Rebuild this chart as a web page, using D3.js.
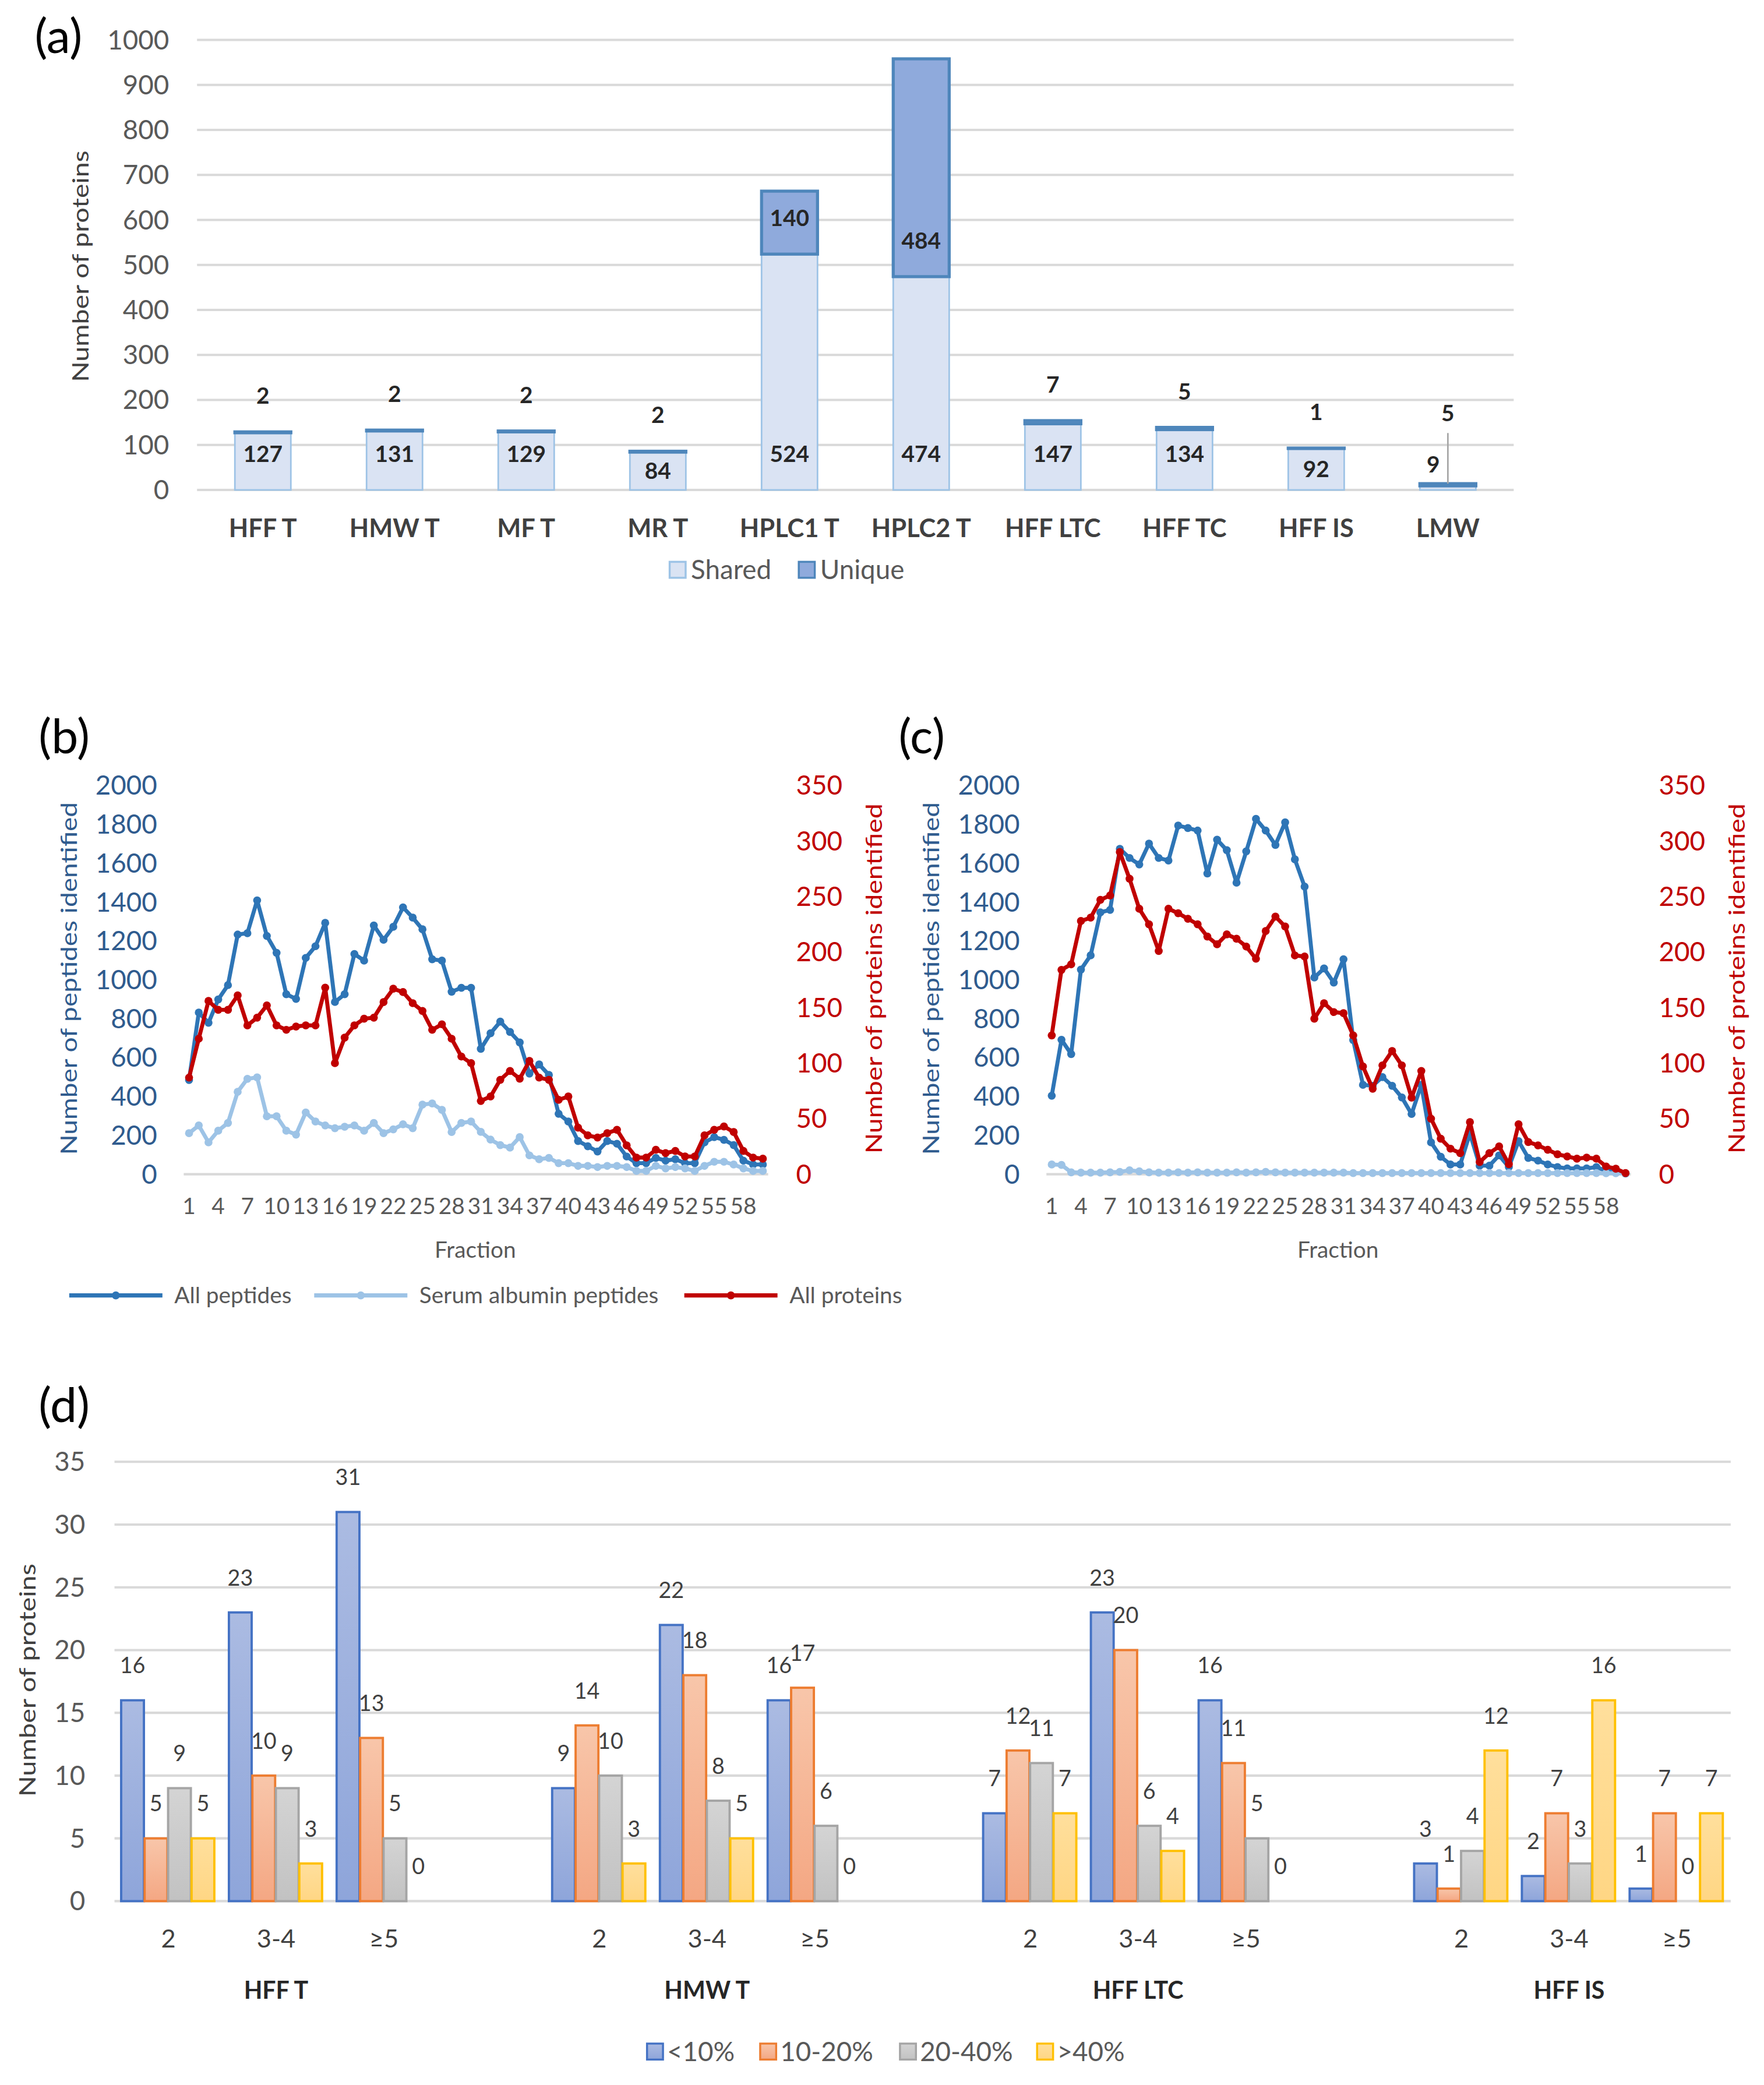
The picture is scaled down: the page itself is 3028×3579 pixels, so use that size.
<!DOCTYPE html>
<meta charset="utf-8">
<script src="https://d3js.org/d3.v7.min.js"></script>
<style>
  body { margin: 0; background: #fff; }
  text { font-family: Lato, "Liberation Sans", sans-serif; }
</style>
<div id="my_dataviz"></div>
<script>
// ---------- data: panel (a) ----------
var catsA = ["HFF T", "HMW T", "MF T", "MR T", "HPLC1 T", "HPLC2 T", "HFF LTC", "HFF TC", "HFF IS", "LMW"];
var sharedA = [127, 131, 129, 84, 524, 474, 147, 134, 92, 9];
var uniqueA = [2, 2, 2, 2, 140, 484, 7, 5, 1, 5];
var ticksA = [0, 100, 200, 300, 400, 500, 600, 700, 800, 900, 1000];

// ---------- data: panels (b) and (c) ----------
var fractions = d3.range(1, 61);
var fracTicks = [1, 4, 7, 10, 13, 16, 19, 22, 25, 28, 31, 34, 37, 40, 43, 46, 49, 52, 55, 58];
var ticksPep = [0, 200, 400, 600, 800, 1000, 1200, 1400, 1600, 1800, 2000];
var ticksProt = [0, 50, 100, 150, 200, 250, 300, 350];

var pepB = [485, 832, 779, 899, 973, 1233, 1240, 1409, 1226, 1139,
            926, 902, 1113, 1173, 1293, 886, 926, 1133, 1099, 1280,
            1206, 1273, 1373, 1320, 1260, 1106, 1099, 939, 959, 959,
            645, 725, 785, 732, 678, 518, 565, 511, 311, 271,
            171, 144, 117, 171, 157, 91, 57, 57, 84, 70,
            77, 57, 57, 164, 191, 177, 150, 70, 50, 50];
var albB = [211, 251, 164, 224, 264, 424, 491, 498, 298, 298,
            224, 204, 318, 271, 251, 237, 244, 251, 224, 264,
            211, 231, 257, 237, 358, 364, 331, 217, 264, 271,
            218, 178, 150, 137, 191, 97, 77, 84, 57, 57,
            43, 43, 37, 43, 43, 37, 17, 17, 43, 30,
            37, 30, 17, 43, 64, 64, 50, 30, 17, 17];
var protB = [87, 122, 156, 148, 148, 161, 134, 141, 152, 134,
             130, 133, 134, 134, 168, 100, 123, 134, 140, 141,
             155, 167, 164, 154, 147, 130, 135, 122, 106, 100,
             66, 70, 85, 93, 86, 102, 87, 85, 67, 70,
             42, 35, 33, 37, 40, 26, 15, 15, 22, 19,
             21, 16, 16, 35, 40, 43, 38, 21, 15, 14];

var pepC = [404, 692, 618, 1053, 1126, 1347, 1360, 1674, 1627, 1594,
            1701, 1627, 1614, 1794, 1781, 1768, 1547, 1721, 1667, 1500,
            1661, 1828, 1768, 1694, 1810, 1620, 1480, 1012, 1059, 986,
            1106, 690, 460, 455, 500, 455, 395, 310, 460, 164,
            90, 50, 50, 210, 44, 44, 97, 37, 170, 84,
            70, 50, 37, 30, 30, 30, 37, 17, 17, 4];
var albC = [50, 48, 10, 8, 8, 8, 10, 12, 20, 15,
            10, 8, 8, 10, 8, 10, 8, 8, 8, 10,
            8, 10, 12, 10, 8, 8, 8, 8, 8, 8,
            8, 6, 6, 6, 6, 6, 6, 6, 6, 6,
            6, 6, 6, 6, 6, 6, 6, 6, 6, 6,
            6, 6, 6, 6, 6, 6, 6, 5, 5, 5];
var protC = [125, 184, 189, 228, 231, 247, 251, 290, 266, 239,
             225, 201, 239, 235, 230, 225, 214, 207, 216, 212,
             205, 194, 219, 232, 223, 197, 196, 140, 154, 146,
             145, 125, 97, 77, 98, 111, 98, 69, 93, 50,
             32, 23, 19, 47, 11, 19, 25, 9, 45, 29,
             26, 22, 18, 16, 14, 15, 14, 7, 5, 1];

// ---------- data: panel (d) ----------
var groupsD = ["HFF T", "HMW T", "HFF LTC", "HFF IS"];
var subsD = ["2", "3-4", "\u22655"];
var seriesD = ["<10%", "10-20%", "20-40%", ">40%"];
var lt10 = [16, 23, 31, 9, 22, 16, 7, 23, 16, 3, 2, 1];
var p10to20 = [5, 10, 13, 14, 18, 17, 12, 20, 11, 1, 7, 7];
var p20to40 = [9, 9, 5, 10, 8, 6, 11, 6, 5, 4, 3, 0];
var gt40 = [5, 3, 0, 3, 5, 0, 7, 4, 0, 12, 16, 7];
var ticksD = [0, 5, 10, 15, 20, 25, 30, 35];

// ---------- page ----------
var K = 3028 / 1325;   // drawing is laid out in a 1325 wide frame, then scaled
var svg = d3.select("#my_dataviz")
    .append("svg")
    .attr("width", 3028)
    .attr("height", 3579);
var root = svg.append("g").attr("transform", "scale(" + K + ")");

var grid = "#d9d9d9", axisText = "#595959";

function panelLetter(txt, x, y) {
    root.append("text").attr("x", x).attr("y", y)
        .attr("font-size", 36).attr("fill", "#000").text(txt);
}

function rotTitle(txt, x, cy, len, color) {
    root.append("text")
        .attr("transform", "translate(" + x + "," + cy + ")rotate(-90)")
        .attr("text-anchor", "middle")
        .attr("dominant-baseline", "central")
        .attr("font-family", "DejaVu Sans")
        .attr("font-size", 17)
        .attr("textLength", len)
        .attr("lengthAdjust", "spacingAndGlyphs")
        .attr("fill", color)
        .text(txt);
}

// ================= (a) =================
panelLetter("(a)", 26, 40);

var xA = d3.scaleBand().domain(catsA).range([148, 1137]).paddingInner(0.575).paddingOuter(0.2875);
var yA = d3.scaleLinear().domain([0, 1000]).range([368, 30]);

var gA = root.append("g");
gA.selectAll("line.grid").data(ticksA).enter().append("line")
    .attr("x1", 148).attr("x2", 1137)
    .attr("y1", function(d) { return yA(d); }).attr("y2", function(d) { return yA(d); })
    .attr("stroke", grid).attr("stroke-width", 1.8);
gA.selectAll("text.tick").data(ticksA).enter().append("text")
    .attr("x", 127).attr("y", function(d) { return yA(d); }).attr("dy", "0.35em")
    .attr("text-anchor", "end").attr("font-size", 20).attr("fill", axisText)
    .text(function(d) { return d; });

var dataA = catsA.map(function(c, i) { return { cat: c, shared: sharedA[i], unique: uniqueA[i] }; });

gA.selectAll("rect.shared").data(dataA).enter().append("rect")
    .attr("x", function(d) { return xA(d.cat); })
    .attr("width", xA.bandwidth())
    .attr("y", function(d) { return yA(d.shared); })
    .attr("height", function(d) { return yA(0) - yA(d.shared); })
    .attr("fill", "#dae3f3").attr("stroke", "#9dc3e6").attr("stroke-width", 1.2);
gA.selectAll("rect.unique").data(dataA).enter().append("rect")
    .attr("x", function(d) { return xA(d.cat); })
    .attr("width", xA.bandwidth())
    .attr("y", function(d) { return yA(d.shared + d.unique); })
    .attr("height", function(d) { return yA(d.shared) - yA(d.shared + d.unique); })
    .attr("fill", "#8faadc").attr("stroke", "#4e86bb").attr("stroke-width", 2.3);

// shared labels: inside base, centred when the bar is short, pulled aside when tiny
gA.selectAll("text.sl").data(dataA).enter().append("text")
    .attr("x", function(d) { return xA(d.cat) + xA.bandwidth() / 2 + (d.shared < 20 ? -11 : 0); })
    .attr("y", function(d) {
        var h = yA(0) - yA(d.shared);
        if (d.shared < 20) return yA(0) - 19;
        return h > 40 ? yA(0) - 27 : yA(d.shared / 2);
    })
    .attr("dy", "0.35em").attr("text-anchor", "middle")
    .attr("font-size", 17).attr("font-weight", "bold").attr("fill", "#262626")
    .text(function(d) { return d.shared; });

// unique labels: inside base of the segment when tall, else above the bar
function uniqueLabelY(d) {
    var h = yA(d.shared) - yA(d.shared + d.unique);
    if (h > 40) return yA(d.shared) - 27;
    if (d.shared + d.unique < 20) return yA(d.shared + d.unique) - 53;
    return yA(d.shared + d.unique) - 27;
}
gA.selectAll("line.leader").data(dataA.filter(function(d) { return d.shared + d.unique < 20; }))
    .enter().append("line")
    .attr("x1", function(d) { return xA(d.cat) + xA.bandwidth() / 2; })
    .attr("x2", function(d) { return xA(d.cat) + xA.bandwidth() / 2; })
    .attr("y1", function(d) { return uniqueLabelY(d) + 15; })
    .attr("y2", function(d) { return yA(d.shared + d.unique); })
    .attr("stroke", "#a6a6a6").attr("stroke-width", 1.2);
gA.selectAll("text.ul").data(dataA).enter().append("text")
    .attr("x", function(d) { return xA(d.cat) + xA.bandwidth() / 2; })
    .attr("y", uniqueLabelY)
    .attr("dy", "0.35em").attr("text-anchor", "middle")
    .attr("font-size", 17).attr("font-weight", "bold").attr("fill", "#262626")
    .text(function(d) { return d.unique; });

gA.selectAll("text.xl").data(catsA).enter().append("text")
    .attr("x", function(d) { return xA(d) + xA.bandwidth() / 2; })
    .attr("y", 397).attr("dy", "0.35em").attr("text-anchor", "middle")
    .attr("font-size", 19).attr("font-weight", "bold").attr("fill", "#404040")
    .text(function(d) { return d; });

rotTitle("Number of proteins", 60, 200, 174, "#404040");

var legA = [{ t: "Shared", f: "#dae3f3", s: "#9dc3e6", x: 503 }, { t: "Unique", f: "#8faadc", s: "#4e86bb", x: 600 }];
legA.forEach(function(l) {
    gA.append("rect").attr("x", l.x).attr("y", 422).attr("width", 12).attr("height", 12)
        .attr("fill", l.f).attr("stroke", l.s).attr("stroke-width", 1.5);
    gA.append("text").attr("x", l.x + 16).attr("y", 428).attr("dy", "0.35em")
        .attr("font-size", 20).attr("fill", axisText).text(l.t);
});

// ================= (b) and (c) =================
var cPep = "#2e75b6", cAlb = "#9dc3e6", cProt = "#c00000", cLeft = "#2f5b8e";

function linePanel(dx, pep, alb, prot) {
    var g = root.append("g");
    var x = d3.scalePoint().domain(fractions).range([142 + dx, 573 + dx]);
    var yL = d3.scaleLinear().domain([0, 2000]).range([882, 590]);
    var yR = d3.scaleLinear().domain([0, 350]).range([882, 590]);

    g.append("line").attr("x1", 138 + dx).attr("x2", 577 + dx).attr("y1", yL(0)).attr("y2", yL(0))
        .attr("stroke", grid).attr("stroke-width", 1.8);

    g.selectAll("text.tl").data(ticksPep).enter().append("text")
        .attr("x", 118 + dx).attr("y", function(d) { return yL(d); }).attr("dy", "0.35em")
        .attr("text-anchor", "end").attr("font-size", 20).attr("fill", cLeft)
        .text(function(d) { return d; });
    g.selectAll("text.tr").data(ticksProt).enter().append("text")
        .attr("x", 598 + dx).attr("y", function(d) { return yR(d); }).attr("dy", "0.35em")
        .attr("text-anchor", "start").attr("font-size", 20).attr("fill", cProt)
        .text(function(d) { return d; });
    g.selectAll("text.tx").data(fracTicks).enter().append("text")
        .attr("x", function(d) { return x(d); }).attr("y", 906).attr("dy", "0.35em")
        .attr("text-anchor", "middle").attr("font-size", 17).attr("fill", axisText)
        .text(function(d) { return d; });
    g.append("text").attr("x", 357 + dx).attr("y", 939).attr("dy", "0.35em")
        .attr("text-anchor", "middle").attr("font-size", 17).attr("fill", axisText).text("Fraction");

    var series = [
        { v: pep, y: yL, c: cPep },
        { v: alb, y: yL, c: cAlb },
        { v: prot, y: yR, c: cProt }
    ];
    series.forEach(function(s) {
        var line = d3.line()
            .x(function(d, i) { return x(fractions[i]); })
            .y(function(d) { return s.y(d); });
        g.append("path").datum(s.v).attr("d", line)
            .attr("fill", "none").attr("stroke", s.c).attr("stroke-width", 3)
            .attr("stroke-linejoin", "round");
        g.selectAll(null).data(s.v).enter().append("circle")
            .attr("cx", function(d, i) { return x(fractions[i]); })
            .attr("cy", function(d) { return s.y(d); })
            .attr("r", 3).attr("fill", s.c);
    });

    rotTitle("Number of peptides identified", 51 + dx, 735, 265, cLeft);
    rotTitle("Number of proteins identified", 656 + dx, 735, 263, cProt);
}

panelLetter("(b)", 29, 566);
panelLetter("(c)", 675, 566);
linePanel(0, pepB, albB, protB);
linePanel(648, pepC, albC, protC);

var legB = [
    { t: "All peptides", c: cPep, x: 52 },
    { t: "Serum albumin peptides", c: cAlb, x: 236 },
    { t: "All proteins", c: cProt, x: 514 }
];
legB.forEach(function(l) {
    root.append("line").attr("x1", l.x).attr("x2", l.x + 70).attr("y1", 973).attr("y2", 973)
        .attr("stroke", l.c).attr("stroke-width", 3.2);
    root.append("circle").attr("cx", l.x + 35).attr("cy", 973).attr("r", 3).attr("fill", l.c);
    root.append("text").attr("x", l.x + 79).attr("y", 973).attr("dy", "0.35em")
        .attr("font-size", 17).attr("fill", axisText).text(l.t);
});

// ================= (d) =================
panelLetter("(d)", 29, 1068);

var slots = [];
groupsD.forEach(function(g, gi) {
    subsD.forEach(function(s) { slots.push(g + "|" + s); });
    if (gi < groupsD.length - 1) slots.push("gap" + gi);
});
var xD = d3.scaleBand().domain(slots).range([86, 1300]);
var xIn = d3.scaleBand().domain(seriesD).range([5, 75]).paddingInner(0.03);
var yD = d3.scaleLinear().domain([0, 35]).range([1428, 1098]);

var colD = {
    "<10%":   { top: "#abbbe2", bot: "#8ea5da", s: "#4472c4" },
    "10-20%": { top: "#f8c6aa", bot: "#f4a783", s: "#ed7d31" },
    "20-40%": { top: "#d4d4d4", bot: "#c2c2c2", s: "#a5a5a5" },
    ">40%":   { top: "#ffdf9c", bot: "#ffd684", s: "#ffc000" }
};
var defs = svg.append("defs");
seriesD.forEach(function(s, i) {
    var gr = defs.append("linearGradient").attr("id", "gd" + i)
        .attr("x1", 0).attr("y1", 0).attr("x2", 0).attr("y2", 1);
    gr.append("stop").attr("offset", "0%").attr("stop-color", colD[s].top);
    gr.append("stop").attr("offset", "100%").attr("stop-color", colD[s].bot);
});

var valuesD = [lt10, p10to20, p20to40, gt40];
var barsD = [];
groupsD.forEach(function(g, gi) {
    subsD.forEach(function(s, si) {
        seriesD.forEach(function(ser, k) {
            barsD.push({ slot: g + "|" + s, ser: ser, k: k, v: valuesD[k][gi * 3 + si] });
        });
    });
});

var gD = root.append("g");
gD.selectAll("line.grid").data(ticksD).enter().append("line")
    .attr("x1", 86).attr("x2", 1300)
    .attr("y1", function(d) { return yD(d); }).attr("y2", function(d) { return yD(d); })
    .attr("stroke", grid).attr("stroke-width", 1.8);
gD.selectAll("text.tick").data(ticksD).enter().append("text")
    .attr("x", 64).attr("y", function(d) { return yD(d); }).attr("dy", "0.35em")
    .attr("text-anchor", "end").attr("font-size", 20).attr("fill", axisText)
    .text(function(d) { return d; });

gD.selectAll("rect.bar").data(barsD.filter(function(d) { return d.v > 0; })).enter().append("rect")
    .attr("x", function(d) { return xD(d.slot) + xIn(d.ser); })
    .attr("width", xIn.bandwidth())
    .attr("y", function(d) { return yD(d.v); })
    .attr("height", function(d) { return yD(0) - yD(d.v); })
    .attr("fill", function(d) { return "url(#gd" + d.k + ")"; })
    .attr("stroke", function(d) { return colD[d.ser].s; })
    .attr("stroke-width", 1.7);

gD.selectAll("text.vl").data(barsD).enter().append("text")
    .attr("x", function(d) { return xD(d.slot) + xIn(d.ser) + xIn.bandwidth() / 2; })
    .attr("y", function(d) { return yD(d.v) - 26; }).attr("dy", "0.35em")
    .attr("text-anchor", "middle").attr("font-size", 16.5).attr("fill", "#404040")
    .text(function(d) { return d.v; });

gD.selectAll("text.sub").data(slots.filter(function(s) { return s.indexOf("|") > 0; })).enter().append("text")
    .attr("x", function(d) { return xD(d) + xD.bandwidth() / 2; })
    .attr("y", 1456).attr("dy", "0.35em").attr("text-anchor", "middle")
    .attr("font-size", 19).attr("fill", "#404040")
    .text(function(d) { return d.split("|")[1]; });
gD.selectAll("text.grp").data(groupsD).enter().append("text")
    .attr("x", function(d) { return xD(d + "|" + subsD[1]) + xD.bandwidth() / 2; })
    .attr("y", 1495).attr("dy", "0.35em").attr("text-anchor", "middle")
    .attr("font-size", 18).attr("font-weight", "bold").attr("fill", "#262626")
    .text(function(d) { return d; });

rotTitle("Number of proteins", 20, 1262, 175, "#404040");

var legXD = [486, 571, 676, 779];
seriesD.forEach(function(s, i) {
    gD.append("rect").attr("x", legXD[i]).attr("y", 1535).attr("width", 12).attr("height", 12)
        .attr("fill", "url(#gd" + i + ")").attr("stroke", colD[s].s).attr("stroke-width", 1.5);
    gD.append("text").attr("x", legXD[i] + 15).attr("y", 1541).attr("dy", "0.35em")
        .attr("font-size", 20).attr("fill", axisText).text(s);
});
</script>
